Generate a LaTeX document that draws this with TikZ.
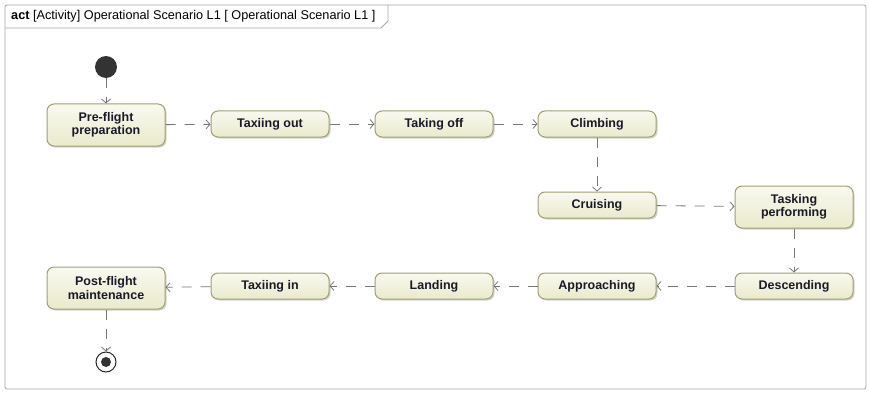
\documentclass[tikz,border=0pt]{standalone}
\usepackage{fontspec}
\setmainfont{Liberation Sans}
\usepackage{tikz}
\usetikzlibrary{arrows.meta,positioning,shadows}

\definecolor{actfill}{RGB}{234,234,204}
\definecolor{actdraw}{RGB}{160,160,112}
\definecolor{actline}{RGB}{120,120,120}
\definecolor{acttext}{RGB}{25,25,40}

\begin{document}
\begin{tikzpicture}[
      x=1pt, y=-1pt,
      font=\fontsize{12.7}{13.5}\selectfont,
      action/.style={
          rectangle, draw=actdraw, line width=1pt, rounded corners=7pt,
          top color=white!70!actfill, bottom color=actfill,
          minimum width=118pt, minimum height=26pt,
          inner sep=2pt, align=center, text=acttext,
          font=\fontsize{12.5}{13.5}\selectfont\bfseries,
          drop shadow={shadow xshift=1.5pt, shadow yshift=-1.5pt, opacity=0.35}
      },
      tall/.style={minimum height=42pt},
      start/.style={circle, fill=black!80, minimum size=22pt, inner sep=0pt},
      stop/.style={circle, draw=black!85, line width=1pt, fill=white,
          minimum size=20pt, inner sep=0pt},
      stopdot/.style={circle, fill=black!80, minimum size=10pt, inner sep=0pt},
      flow/.style={-{Straight Barb[length=4pt,width=9pt]}, draw=actline,
          line width=0.8pt, dash pattern=on 10pt off 9pt}
  ]
  \useasboundingbox (0,0) rectangle (869,393);

  % frame and title tab
  \draw[gray!70, line width=0.8pt, rounded corners=2pt] (5,5) rectangle (866,389);
  \draw[gray!70, line width=0.8pt] (5,28) -- (381,28) -- (388,21) -- (388,5);
  \node[anchor=west, inner sep=0pt] (title) at (11,16.5)
      {\textbf{act} [Activity] Operational Scenario L1 [ Operational Scenario L1 ]};

  % top row
  \node[start]        (init)  at (106,67) {};
  \node[action, tall] (pre)   at (106,125) {Pre-flight\\preparation};
  \node[action]       (taxo)  at (270,124) {Taxiing out};
  \node[action]       (take)  at (434,124) {Taking off};
  \node[action]       (climb) at (597,124) {Climbing};

  % middle row
  \node[action]       (cruise) at (597,205) {Cruising};
  \node[action, tall] (task)   at (794,207) {Tasking\\performing};

  % bottom row
  \node[action]       (desc)  at (794,286) {Descending};
  \node[action]       (appr)  at (597,286) {Approaching};
  \node[action]       (land)  at (434,286) {Landing};
  \node[action]       (taxi)  at (270,286) {Taxiing in};
  \node[action, tall] (post)  at (106,288) {Post-flight\\maintenance};
  \node[stop]         (final) at (106,362) {};
  \node[stopdot]      (finaldot) at (final) {};

  \draw[flow] (init) -- (pre);
  \draw[flow] (pre) -- (taxo);
  \draw[flow] (taxo) -- (take);
  \draw[flow] (take) -- (climb);
  \draw[flow] (climb) -- (cruise);
  \draw[flow] (cruise) -- (task);
  \draw[flow] (task) -- (desc);
  \draw[flow] (desc) -- (appr);
  \draw[flow] (appr) -- (land);
  \draw[flow] (land) -- (taxi);
  \draw[flow] (taxi) -- (post);
  \draw[flow] (post) -- (final);
\end{tikzpicture}
\end{document}
